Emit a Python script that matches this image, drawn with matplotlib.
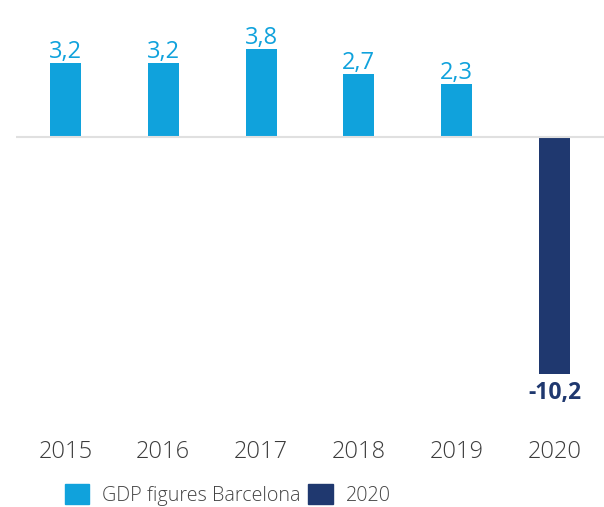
import matplotlib
matplotlib.use('Agg')
import matplotlib.pyplot as plt
from matplotlib.patches import Patch

years = ['2015', '2016', '2017', '2018', '2019', '2020']
gdp = [3.2, 3.2, 3.8, 2.7, 2.3, -10.2]
value_labels = ['3,2', '3,2', '3,8', '2,7', '2,3', '-10,2']
legend_labels = ['GDP figures Barcelona', '2020']

LIGHT = '#10a2dc'
DARK = '#1f386f'
plt.rcParams['font.family'] = ['Open Sans', 'DejaVu Sans']

W, H = 604, 507
fig = plt.figure(figsize=(W / 100, H / 100), dpi=100)
ax = fig.add_axes([16 / W, (H - 420) / H, 588 / W, 420 / H])
x = list(range(len(years)))
colors = [LIGHT] * 5 + [DARK]
ax.bar(x, gdp, width=0.317, color=colors, zorder=2)
ax.axhline(0, color='#e0e0e0', lw=1.5, zorder=3)
ax.set_xlim(-0.506, 5.506)
ax.set_ylim(-12.198, 5.905)

for i, (v, l) in enumerate(zip(gdp, value_labels)):
    if v >= 0:
        ax.annotate(l, (i, v), xytext=(0, 3.6), textcoords='offset points',
                    ha='center', va='baseline', fontsize=17, color=LIGHT)
    else:
        ax.annotate(l, (i, v), xytext=(0, -18), textcoords='offset points',
                    ha='center', va='baseline', fontsize=16.5,
                    fontweight='bold', color=DARK)

ax.set_xticks(x)
ax.set_xticklabels(years, fontsize=17, color='#3c3c3c', fontweight='light')
ax.tick_params(axis='x', length=0, pad=14.4)
ax.set_yticks([])
for s in ax.spines.values():
    s.set_visible(False)

handles = [Patch(color=LIGHT), Patch(color=DARK)]
fig.legend(handles, legend_labels, loc='center left',
           bbox_to_anchor=(65 / W, 1 - 494.7 / H), ncol=2, frameon=False,
           prop={'size': 14.2, 'weight': 'light'},
           handlelength=1.22, handleheight=1.22,
           handletextpad=0.66, columnspacing=0.4, borderpad=0,
           borderaxespad=0, labelcolor='#444444')
fig.savefig('out.png', dpi=100)
